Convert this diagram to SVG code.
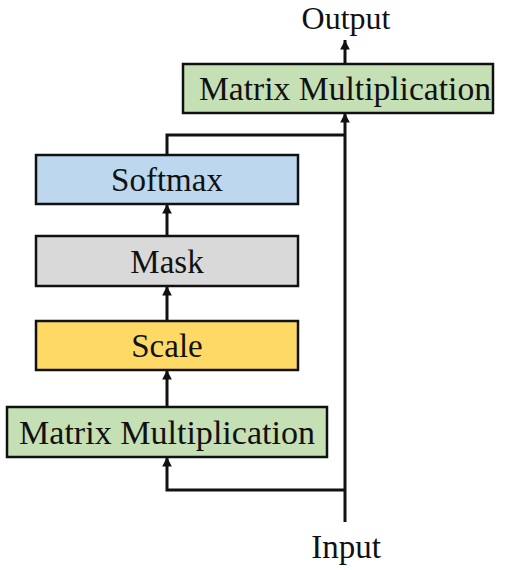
<svg xmlns="http://www.w3.org/2000/svg" width="516" height="570" viewBox="0 0 516 570">
<style>
.box{stroke:#111;stroke-width:2.5}
.lbl{font-family:"Liberation Serif","Times New Roman",serif;font-size:33px;fill:#111;text-anchor:middle}
.c{fill:none;stroke:#111;stroke-width:3}
</style>
<defs>
<marker id="ah" viewBox="0 0 10 10" refX="10" refY="5" markerWidth="3.2" markerHeight="3.2" orient="auto" markerUnits="strokeWidth">
<path d="M0,0 L10,5 L0,10 z" fill="#111"/>
</marker>
</defs>
<rect width="516" height="570" fill="#fff"/>
<g id="connectors">
<path class="c" d="M345,64 V40" marker-end="url(#ah)"/>
<path class="c" d="M345,522 V113" marker-end="url(#ah)"/>
<path class="c" d="M345,490 H167 V457" marker-end="url(#ah)"/>
<path class="c" d="M167,407 V370" marker-end="url(#ah)"/>
<path class="c" d="M167,321 V286" marker-end="url(#ah)"/>
<path class="c" d="M167,236 V204" marker-end="url(#ah)"/>
<path class="c" d="M167,155 V135 H345"/>
</g>
<g id="output"><text class="lbl" x="346" y="29" style="font-size:32px">Output</text></g>
<g id="mm-top"><rect class="box" x="183" y="64" width="310" height="49" fill="#c5e0b4"/><text class="lbl" x="345" y="100" textLength="292" lengthAdjust="spacingAndGlyphs">Matrix Multiplication</text></g>
<g id="softmax"><rect class="box" x="36" y="155" width="262" height="49" fill="#bdd7ee"/><text class="lbl" x="167" y="191">Softmax</text></g>
<g id="mask"><rect class="box" x="36" y="236" width="262" height="50" fill="#d9d9d9"/><text class="lbl" x="167" y="273">Mask</text></g>
<g id="scale"><rect class="box" x="36" y="321" width="262" height="49" fill="#ffd966"/><text class="lbl" x="167" y="357">Scale</text></g>
<g id="mm-bottom"><rect class="box" x="7" y="407" width="320" height="50" fill="#c5e0b4"/><text class="lbl" x="167" y="444" textLength="296" lengthAdjust="spacingAndGlyphs">Matrix Multiplication</text></g>
<g id="input"><text class="lbl" x="346" y="558">Input</text></g>
</svg>
